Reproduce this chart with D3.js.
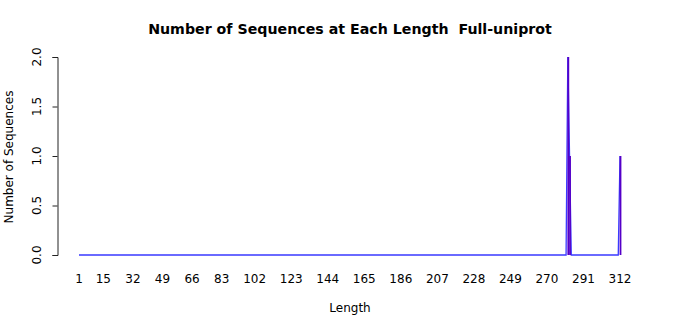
<!DOCTYPE html>
<html lang="en">
<head>
    <meta charset="UTF-8">
    <script src="https://cdn.jsdelivr.net/npm/d3@7"></script>
    <title>Number of Sequences</title>
    <style>
        body { margin: 0; background: #fff; }
        text { font-family: "DejaVu Sans", sans-serif; fill: #000; white-space: pre; }
    </style>
</head>
<body>
    <script>
        // lengths that have at least one sequence, and how many
        const lengths = [282, 283, 312]
        const counts = [2, 1, 1]
        const minLength = 1, maxLength = 312
        const xLabels = [1, 15, 32, 49, 66, 83, 102, 123, 144, 165, 186, 207, 228, 249, 270, 291, 312]
        const yTicks = [0, 0.5, 1, 1.5, 2]

        const width = 700, height = 315

        const svg = d3.select("body").append("svg")
            .attr("width", width)
            .attr("height", height)

        const x = d3.scaleLinear().domain([minLength, maxLength]).range([79, 620])
        const y = d3.scaleLinear().domain([0, 2]).range([255, 57])

        // every length from min to max, zero where no sequence
        const series = d3.range(minLength, maxLength + 1).map(l => {
            const i = lengths.indexOf(l)
            return {len: l, n: i < 0 ? 0 : counts[i]}
        })

        // blue line through all points
        svg.append("path")
            .datum(series)
            .attr("fill", "none")
            .attr("stroke", "#3a3aff")
            .attr("stroke-width", 1.3)
            .attr("d", d3.line().x(d => x(d.len)).y(d => y(d.n)))

        // spikes
        svg.append("g").selectAll("line")
            .data(series.filter(d => d.n > 0))
            .join("line")
            .attr("x1", d => x(d.len) + 0.5).attr("x2", d => x(d.len) + 0.5)
            .attr("y1", y(0)).attr("y2", d => y(d.n))
            .attr("stroke", "#5500c8")
            .attr("stroke-width", 1.8)

        // y axis
        const yAxis = svg.append("g")
            .attr("transform", "translate(57.5,0)")
            .call(d3.axisLeft(y).tickValues(yTicks).tickSize(5).tickFormat(""))
        yAxis.select(".domain").attr("stroke", "#222")
        yAxis.selectAll(".tick line").attr("stroke", "#222")

        svg.append("g").selectAll("text")
            .data(yTicks)
            .join("text")
            .attr("transform", d => `translate(41,${y(d)}) rotate(-90)`)
            .attr("text-anchor", "middle")
            .attr("font-size", 12)
            .text(d3.format(".1f"))

        // x labels, no ticks
        svg.append("g").selectAll("text")
            .data(xLabels)
            .join("text")
            .attr("x", d => x(d))
            .attr("y", 283)
            .attr("text-anchor", "middle")
            .attr("font-size", 12)
            .text(d => d)

        svg.append("text")
            .attr("x", 350).attr("y", 34)
            .attr("text-anchor", "middle")
            .attr("font-size", 14.2)
            .attr("font-weight", "bold")
            .text("Number of Sequences at Each Length  Full-uniprot")

        svg.append("text")
            .attr("x", 350).attr("y", 312)
            .attr("text-anchor", "middle")
            .attr("font-size", 12)
            .text("Length")

        svg.append("text")
            .attr("transform", "translate(13,157) rotate(-90)")
            .attr("text-anchor", "middle")
            .attr("font-size", 12)
            .text("Number of Sequences")
    </script>
</body>
</html>
